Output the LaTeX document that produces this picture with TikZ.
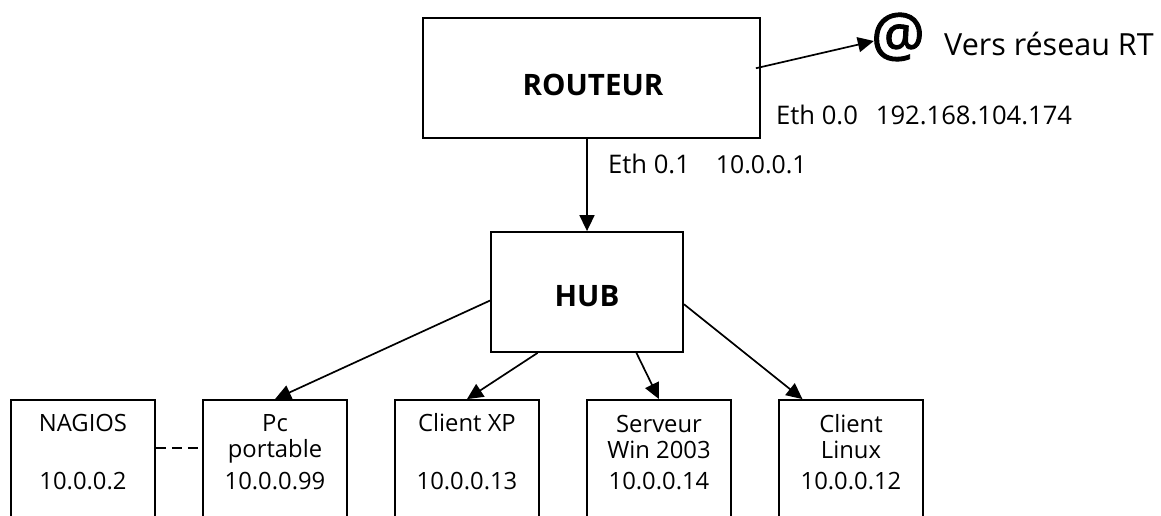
\documentclass[tikz,border=0pt]{standalone}
\usepackage{fontspec}
\setmainfont{Open Sans}
\newfontfamily\atfont[FakeBold=1.6]{Open Sans}
\usetikzlibrary{calc,arrows.meta}
\tikzset{
  box/.style={draw=black,line width=1.8pt,fill=white,inner sep=0pt},
  rbox/.style={box,minimum width=337pt,minimum height=120pt},
  hbox/.style={box,minimum width=192pt,minimum height=120pt},
  cbox/.style={box,minimum width=144pt,minimum height=150pt},
  txt/.style={inner sep=0pt,font=\fontsize{23.8}{23.8}\selectfont},
  eth/.style={inner sep=0pt,anchor=west,font=\fontsize{25.6}{25.6}\selectfont},
  bold/.style={inner sep=0pt,font=\fontsize{29.5}{29.5}\selectfont\bfseries},
  link/.style={line width=1.7pt,-{Triangle[length=16pt,width=15pt]}},
  dashlink/.style={line width=1.8pt,dash pattern=on 10pt off 6pt}
}
\begin{document}
\begin{tikzpicture}[x=1pt,y=-1pt]
\useasboundingbox (0,0) rectangle (1161,516);
\clip (0,0) rectangle (1161,516);
\node[rbox] (routeur) at (591.5,78) {};
\node[bold] (routeurT) at (593,85) {ROUTEUR};
\node[hbox] (hub) at (587,292) {};
\node[bold] (hubT) at (587,296) {HUB};
\node[cbox] (nagios) at (83,475) {};
\node[cbox] (pc) at (275,475) {};
\node[cbox] (xp) at (467,475) {};
\node[cbox] (win) at (659,475) {};
\node[cbox] (linux) at (851,475) {};
\node[txt] (nagiosA) at (83,423) {NAGIOS};
\node[txt] (nagiosB) at (83,481) {10.0.0.2};
\node[txt] (pcA) at (275,423) {Pc};
\node[txt] (pcB) at (275,451) {portable};
\node[txt] (pcC) at (275,481) {10.0.0.99};
\node[txt] (xpA) at (467,423) {Client XP};
\node[txt] (xpB) at (467,481) {10.0.0.13};
\node[txt] (winA) at (659,424) {Serveur};
\node[txt] (winB) at (659,450) {Win 2003};
\node[txt] (winC) at (659,481) {10.0.0.14};
\node[txt] (linuxA) at (851,424) {Client};
\node[txt] (linuxB) at (851,450) {Linux};
\node[txt] (linuxC) at (851,481) {10.0.0.12};
\node[inner sep=0pt,font=\fontsize{60}{60}\selectfont\atfont] (at) at (898,37) {@};
\node[txt,anchor=west,font=\fontsize{30.5}{30.5}\selectfont] (vers) at (944,44) {Vers réseau RT};
\node[eth] (eth0) at (776,115) {Eth 0.0\hspace{18pt}192.168.104.174};
\node[eth] (eth1) at (608,164) {Eth 0.1\hspace{26pt}{\fontsize{24.8}{24.8}\selectfont 10.0.0.1}};
\coordinate (r0) at ($(routeur.south east)!0.58!(routeur.north east)$);
\draw[link] ($(r0)+(-5,0)$) -- ($(at.west)+(3,4)$);
\draw[link] (routeur.south -| hub.north) -- (hub.north);
\draw[link] ($(hub.south west)!0.43!(hub.north west)$) -- (pc.north);
\draw[link] ($(hub.south west)!0.245!(hub.south east)$) -- (xp.north);
\draw[link] ($(hub.south west)!0.755!(hub.south east)$) -- (win.north);
\draw[link] ($(hub.south east)!0.4!(hub.north east)$) -- ($(linux.north west)!0.167!(linux.north east)$);
\draw[dashlink] (nagios.east |- 0,448) -- (pc.west |- 0,448);
\end{tikzpicture}
\end{document}
